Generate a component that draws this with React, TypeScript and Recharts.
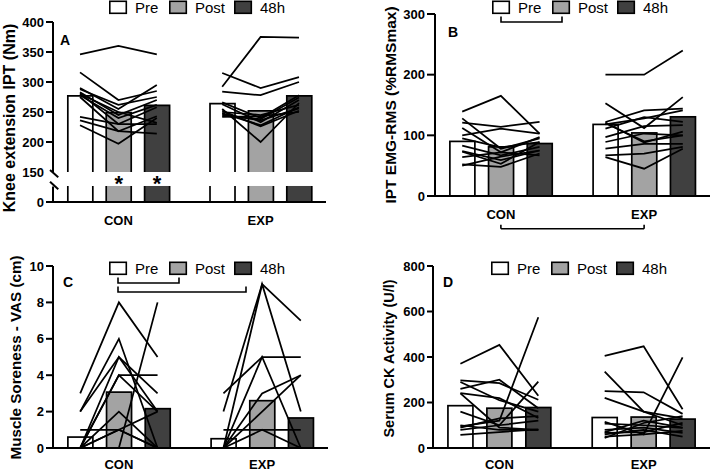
import React from 'react';
import { ComposedChart, Bar, Line, XAxis, YAxis, ReferenceLine } from 'recharts';

const FONT = '"Liberation Sans", Arial, Helvetica, sans-serif';

const groups = ['CON', 'EXP'];
const times = ['Pre', 'Post', '48h'];
const timeFills = ['#ffffff', '#a3a3a3', '#404040'];

// Panel A - Knee extension IPT (Nm)
const iptMeanCON = [277, 249, 261];
const iptMeanEXP = [264, 252, 277];
const iptSigCON = [false, true, true];
const iptSigEXP = [false, false, false];
const iptCON = [
  [346, 360, 346],
  [316, 270, 285],
  [290, 255, 295],
  [288, 262, 275],
  [283, 245, 270],
  [281, 230, 258],
  [280, 250, 232],
  [278, 240, 262],
  [275, 218, 243],
  [242, 230, 230],
  [236, 218, 214],
  [228, 197, 240],
];
const iptEXP = [
  [292, 375, 374],
  [315, 290, 308],
  [284, 278, 300],
  [266, 240, 278],
  [263, 233, 270],
  [255, 200, 265],
  [250, 245, 262],
  [248, 228, 258],
  [246, 236, 256],
  [244, 238, 274],
  [252, 226, 252],
  [242, 243, 250],
];

// Panel B - IPT EMG-RMS (%RMSmax)
const emgMeanCON = [90, 81, 86.5];
const emgMeanEXP = [118, 104, 130.5];
const emgCON = [
  [139, 165, 103],
  [128, 78, 95],
  [121, 114, 122],
  [112, 72, 97],
  [100, 111, 103],
  [95, 80, 89],
  [83, 67, 81],
  [74, 59, 75],
  [73, 53, 89],
  [64, 72, 67],
  [52, 48, 70],
  [50, 65, 75],
];
const emgEXP = [
  [200, 200, 240],
  [153, 112, 163],
  [122, 141, 144],
  [118, 128, 141],
  [111, 130, 122],
  [97, 115, 117],
  [121, 88, 106],
  [89, 103, 100],
  [78, 86, 86],
  [67, 70, 81],
  [64, 45, 78],
  [120, 90, 100],
];
const emgTimeBrackets = [[0, 1]];
const emgGroupBrackets = [[0, 1]];

// Panel C - Muscle soreness VAS (cm)
const vasMeanCON = [0.6, 3.07, 2.16];
const vasMeanEXP = [0.51, 2.6, 1.65];
const vasCON = [
  [3, 8, 5],
  [2, 5, 3],
  [2, 6, 0],
  [1, 1, 0],
  [0, 5, 2],
  [0, 4, 4],
  [0, 4, 2],
  [0, 1, 2],
  [0, 0, 8],
  [0, 2, 0],
  [0, 1, 0],
  [0, 0, 0],
];
const vasEXP = [
  [3, 5, 5],
  [2, 9, 7],
  [0, 9, 2],
  [0, 5, 0],
  [0, 3, 4],
  [0, 1, 0],
  [1, 1, 1],
  [0, 2, 4],
  [0, 0, 0],
  [0, 0, 0],
  [0, 0, 0],
  [0, 0, 0],
];
const vasTimeBrackets = [[0, 1], [0, 2]];

// Panel D - Serum CK activity (U/l)
const ckMeanCON = [186, 175, 178];
const ckMeanEXP = [134, 136, 127];
const ckCON = [
  [370, 453, 230],
  [297, 285, 212],
  [260, 300, 175],
  [241, 219, 132],
  [160, 100, 292],
  [95, 120, 575],
  [100, 80, 80],
  [58, 70, 82],
  [90, 130, 140],
  [290, 210, 160],
  [240, 90, 80],
  [80, 100, 120],
];
const ckEXP = [
  [405, 447, 170],
  [336, 160, 130],
  [250, 245, 150],
  [220, 160, 100],
  [115, 60, 398],
  [107, 100, 88],
  [80, 90, 66],
  [66, 70, 110],
  [44, 110, 140],
  [60, 80, 50],
  [70, 120, 90],
  [50, 60, 75],
];

const OFFSET = 0.27;
const X_DOMAIN: [number, number] = [-0.46, 1.46];
const LINE_W = 1.75;

function buildRows(meanCON: number[], meanEXP: number[], subjCON: number[][], subjEXP: number[][], sigCON?: boolean[], sigEXP?: boolean[]) {
  const rows: any[] = [];
  const sets: [number[], number[][], boolean[] | undefined][] = [
    [meanCON, subjCON, sigCON],
    [meanEXP, subjEXP, sigEXP],
  ];
  sets.forEach(([means, subj, sig], g) => {
    times.forEach((_, t) => {
      const row: any = { x: g + (t - 1) * OFFSET, t, mean: means[t], sig: sig ? sig[t] : false };
      subj.forEach((s, i) => {
        row[(g === 0 ? 'c' : 'e') + i] = s[t];
      });
      rows.push(row);
    });
  });
  return rows;
}

type Brk = { lo: number; hi: number; base: number } | null;

const makeBarShape = (brk: Brk) => (props: any) => {
  const { x, y, width, height, payload } = props;
  const fill = timeFills[payload.t];
  if (!brk) {
    return <rect x={x} y={y} width={width} height={height} fill={fill} stroke="#000" strokeWidth={1.7} />;
  }
  const bottom = y + height;
  const k = height / (payload.mean - brk.base);
  const yHi = bottom - (brk.hi - brk.base) * k;
  const yLo = bottom - (brk.lo - brk.base) * k;
  return (
    <g>
      <rect x={x} y={y} width={width} height={yHi - y} fill={fill} />
      <rect x={x} y={yLo} width={width} height={bottom - yLo} fill={fill} />
      <path
        d={`M${x},${yHi}V${y}H${x + width}V${yHi}M${x},${yLo}V${bottom}M${x + width},${yLo}V${bottom}`}
        fill="none"
        stroke="#000"
        strokeWidth={1.7}
      />
      {payload.sig ? (
        <text x={x + width / 2} y={(yHi + yLo) / 2 + 12.5} textAnchor="middle" fontSize={22} fontWeight="bold" fill="#000" fontFamily={FONT}>
          *
        </text>
      ) : null}
    </g>
  );
};

const makeYTick = (tickSize: number, tickMargin: number, fmt: (v: number) => string, skip: number[]) => (props: any) => {
  const { x, y, payload } = props;
  const ax = x + tickSize + tickMargin;
  return (
    <g>
      {skip.includes(payload.value) ? null : (
        <line x1={ax - tickSize} x2={ax} y1={y} y2={y} stroke="#000" strokeWidth={2} />
      )}
      <text x={x} y={y} dy="0.36em" textAnchor="end" fontSize={13} fontWeight="bold" fill="#000" fontFamily={FONT}>
        {fmt(payload.value)}
      </text>
    </g>
  );
};

type PanelCfg = {
  left: number;
  top: number;
  width: number;
  height: number;
  mTop: number;
  mRight: number;
  yWidth: number;
  xHeight: number;
  xTickMargin: number;
  yDomain: [number, number];
  yTicks: number[];
  yFmt: (v: number) => string;
  tickSize: number;
  rows: any[];
  nCON: number;
  nEXP: number;
  brk: Brk;
  axisBreak?: boolean;
  groupBrackets?: number[][];
};

function Panel({ cfg }: { cfg: PanelCfg }) {
  const [y0, y1] = cfg.yDomain;
  const span = y1 - y0;
  const refs: React.ReactNode[] = [];
  const seg = (key: string, a: { x: number; y: number }, b: { x: number; y: number }, w = 2) => (
    <ReferenceLine key={key} segment={[a, b]} stroke="#000" strokeWidth={w} ifOverflow="visible" />
  );
  if (cfg.axisBreak) {
    const xm = X_DOMAIN[0];
    refs.push(seg('ax-up', { x: xm, y: 400 }, { x: xm, y: 149 }));
    refs.push(seg('ax-lo', { x: xm, y: 100 }, { x: xm, y: 126 }));
    refs.push(seg('brk1', { x: xm - 0.021, y: 153.3 }, { x: xm + 0.037, y: 141.2 }));
    refs.push(seg('brk2', { x: xm - 0.021, y: 133.8 }, { x: xm + 0.037, y: 121.2 }));
  }
  (cfg.groupBrackets || []).forEach(([a, b], j) => {
    const yb = y0 - 0.18 * span;
    const yt = y0 - 0.158 * span;
    refs.push(seg('gb-h' + j, { x: a, y: yb }, { x: b, y: yb }, 1.6));
    refs.push(seg('gb-l' + j, { x: a, y: yt }, { x: a, y: yb }, 1.6));
    refs.push(seg('gb-r' + j, { x: b, y: yt }, { x: b, y: yb }, 1.6));
  });
  const lines: React.ReactNode[] = [];
  for (let i = 0; i < cfg.nCON; i++) {
    lines.push(
      <Line key={'c' + i} dataKey={'c' + i} stroke="#000" strokeWidth={LINE_W} dot={false} activeDot={false} isAnimationActive={false} connectNulls={false} legendType="none" />
    );
  }
  for (let i = 0; i < cfg.nEXP; i++) {
    lines.push(
      <Line key={'e' + i} dataKey={'e' + i} stroke="#000" strokeWidth={LINE_W} dot={false} activeDot={false} isAnimationActive={false} connectNulls={false} legendType="none" />
    );
  }
  return (
    <div style={{ position: 'absolute', left: cfg.left, top: cfg.top }}>
      <ComposedChart
        width={cfg.width}
        height={cfg.height}
        data={cfg.rows}
        margin={{ top: cfg.mTop, right: cfg.mRight, left: 0, bottom: 0 }}
      >
        <XAxis
          type="number"
          dataKey="x"
          domain={X_DOMAIN}
          allowDataOverflow
          ticks={[0, 1]}
          interval={0}
          tickFormatter={(v: number) => groups[v]}
          height={cfg.xHeight}
          tickLine={false}
          tickSize={0}
          tickMargin={cfg.xTickMargin}
          axisLine={{ stroke: '#000', strokeWidth: 2 }}
          tick={{ fontSize: 13, fontWeight: 'bold', fill: '#000', fontFamily: FONT }}
        />
        <YAxis
          type="number"
          domain={cfg.yDomain}
          allowDataOverflow
          ticks={cfg.yTicks}
          interval={0}
          width={cfg.yWidth}
          tickLine={false}
          tickSize={cfg.tickSize}
          tickMargin={2}
          axisLine={cfg.axisBreak ? false : { stroke: '#000', strokeWidth: 2 }}
          tick={makeYTick(cfg.tickSize, 2, cfg.yFmt, cfg.axisBreak ? [150] : [])}
        />
        <Bar dataKey="mean" barSize={25} shape={makeBarShape(cfg.brk)} isAnimationActive={false} legendType="none" />
        {lines}
        {refs}
      </ComposedChart>
    </div>
  );
}

const LEG_X = [0, 60, 125];

function LegendSvg({ left, top, brackets }: { left: number; top: number; brackets: number[][] }) {
  return (
    <g transform={`translate(${left},${top})`}>
      {times.map((t, i) => (
        <g key={t}>
          <rect x={LEG_X[i] + 0.8} y={1.3} width={16.5} height={12} fill={timeFills[i]} stroke="#000" strokeWidth={1.6} />
          <text x={LEG_X[i] + 26} y={12.8} fontSize={15} fill="#000" fontFamily={FONT}>
            {t}
          </text>
        </g>
      ))}
      {brackets.map(([a, b], j) => {
        const yb = 22 + j * 9;
        const xa = LEG_X[a] + 9;
        const xb = LEG_X[b] + 9 + (b === 2 ? 3 : 1);
        return <path key={j} d={`M${xa},${yb - 5.5}V${yb}H${xb}V${yb - 5.5}`} fill="none" stroke="#000" strokeWidth={1.6} />;
      })}
    </g>
  );
}

function RotTitle({ x, y, size, text }: { x: number; y: number; size: number; text: string }) {
  return (
    <text
      x={x}
      y={y}
      transform={`rotate(-90 ${x} ${y})`}
      textAnchor="middle"
      dominantBaseline="central"
      fontSize={size}
      fontWeight="bold"
      fill="#000"
      fontFamily={FONT}
    >
      {text}
    </text>
  );
}

function PanelLetter({ x, y, text }: { x: number; y: number; text: string }) {
  return (
    <text x={x} y={y} fontSize={14} fontWeight="bold" fill="#000" fontFamily={FONT}>
      {text}
    </text>
  );
}

export default function App() {
  const panels: PanelCfg[] = [
    {
      left: 0, top: 0, width: 355, height: 230, mTop: 22, mRight: 29, yWidth: 53, xHeight: 28, xTickMargin: 14,
      yDomain: [100, 400], yTicks: [100, 150, 200, 250, 300, 350, 400],
      yFmt: (v) => (v === 100 ? '0' : String(v)), tickSize: 7,
      rows: buildRows(iptMeanCON, iptMeanEXP, iptCON, iptEXP, iptSigCON, iptSigEXP),
      nCON: iptCON.length, nEXP: iptEXP.length,
      brk: { lo: 126.7, hi: 150, base: 100 }, axisBreak: true,
    },
    {
      left: 355, top: 0, width: 356, height: 230, mTop: 14, mRight: 1, yWidth: 80, xHeight: 34, xTickMargin: 14,
      yDomain: [0, 300], yTicks: [0, 100, 200, 300], yFmt: (v) => String(v), tickSize: 8,
      rows: buildRows(emgMeanCON, emgMeanEXP, emgCON, emgEXP),
      nCON: emgCON.length, nEXP: emgEXP.length, brk: null, groupBrackets: emgGroupBrackets,
    },
    {
      left: 0, top: 240, width: 355, height: 233, mTop: 26, mRight: 27, yWidth: 53, xHeight: 25, xTickMargin: 12,
      yDomain: [0, 10], yTicks: [0, 2, 4, 6, 8, 10], yFmt: (v) => String(v), tickSize: 7,
      rows: buildRows(vasMeanCON, vasMeanEXP, vasCON, vasEXP),
      nCON: vasCON.length, nEXP: vasEXP.length, brk: null,
    },
    {
      left: 355, top: 240, width: 356, height: 233, mTop: 26, mRight: 1, yWidth: 78, xHeight: 25, xTickMargin: 12,
      yDomain: [0, 800], yTicks: [0, 200, 400, 600, 800], yFmt: (v) => String(v), tickSize: 6,
      rows: buildRows(ckMeanCON, ckMeanEXP, ckCON, ckEXP),
      nCON: ckCON.length, nEXP: ckEXP.length, brk: null,
    },
  ];
  return (
    <div style={{ position: 'absolute', left: 0, top: 0, width: 711, height: 473, background: '#fff', fontFamily: FONT, overflow: 'hidden' }}>
      {panels.map((p, i) => (
        <Panel key={i} cfg={p} />
      ))}
      <svg width={711} height={473} style={{ position: 'absolute', left: 0, top: 0, pointerEvents: 'none' }}>
        <RotTitle x={9.5} y={118} size={16} text="Knee extension IPT (Nm)" />
        <RotTitle x={390} y={105} size={15.5} text="IPT EMG-RMS (%RMSmax)" />
        <RotTitle x={15.5} y={357.5} size={15.2} text="Muscle Soreness - VAS (cm)" />
        <RotTitle x={389} y={358.5} size={14.5} text="Serum CK Activity (U/l)" />
        <PanelLetter x={60} y={44.5} text="A" />
        <PanelLetter x={448} y={36.7} text="B" />
        <PanelLetter x={63} y={286.7} text="C" />
        <PanelLetter x={443} y={287} text="D" />
        <LegendSvg left={109} top={0} brackets={[]} />
        <LegendSvg left={492} top={0} brackets={emgTimeBrackets} />
        <LegendSvg left={109} top={261} brackets={vasTimeBrackets} />
        <LegendSvg left={491} top={261} brackets={[]} />
      </svg>
    </div>
  );
}
